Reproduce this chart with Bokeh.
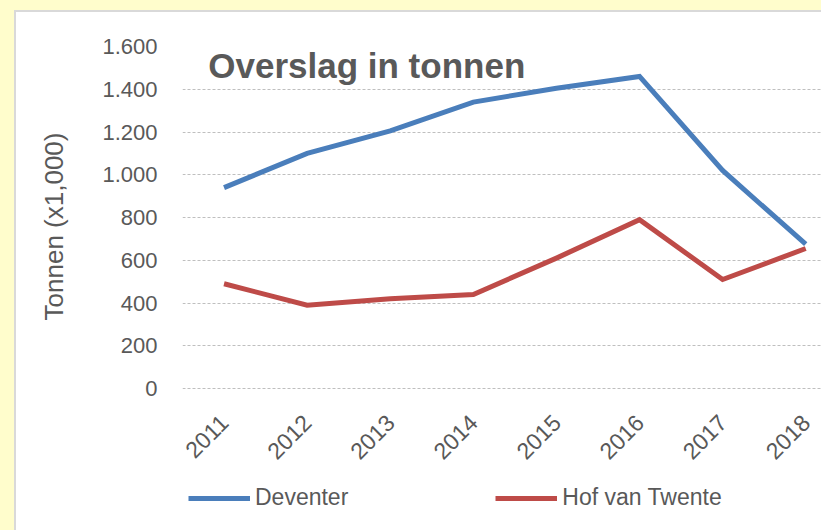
import math
from bokeh.plotting import figure
from bokeh.layouts import column
from bokeh.models import FixedTicker, Range1d, Legend, LegendItem, Label
from bokeh.embed import file_html
from bokeh.resources import INLINE

years = ["2011", "2012", "2013", "2014", "2015", "2016", "2017", "2018"]
deventer = [940, 1100, 1205, 1340, 1405, 1460, 1020, 675]
hof_van_twente = [490, 390, 420, 440, 610, 790, 510, 655]
y_ticks = [0, 200, 400, 600, 800, 1000, 1200, 1400, 1600]
y_tick_labels = ["0", "200", "400", "600", "800", "1.000", "1.200", "1.400", "1.600"]
series_names = ["Deventer", "Hof van Twente"]
series_values = [deventer, hof_van_twente]
series_colors = ["#4A7EBB", "#BE4B48"]

xs = list(range(len(years)))
FONT = "Liberation Sans"
TXT = "#595959"

p = figure(width=805, height=458, output_backend="svg", toolbar_location=None,
           x_range=Range1d(-0.5, 7.19), y_range=Range1d(-84, 1600),
           min_border_left=166, min_border_right=0, min_border_top=34,
           min_border_bottom=64)
p.outline_line_color = None
p.background_fill_color = "white"
p.border_fill_color = "white"

for vals, col in zip(series_values, series_colors):
    p.line(xs, vals, line_width=5, line_color=col, line_join="miter")

# x axis
p.xaxis.ticker = FixedTicker(ticks=xs)
p.xaxis.major_label_overrides = {i: y for i, y in enumerate(years)}
p.xaxis.major_label_orientation = math.pi / 4
p.xaxis.axis_line_color = None
p.xaxis.major_tick_line_color = None
p.xaxis.minor_tick_line_color = None
p.xaxis.major_label_standoff = 6
p.xaxis.major_label_text_font = FONT
p.xaxis.major_label_text_font_size = "23px"
p.xaxis.major_label_text_color = TXT
p.xgrid.visible = False

# y axis
p.yaxis.ticker = FixedTicker(ticks=y_ticks)
p.yaxis.major_label_overrides = {t: l for t, l in zip(y_ticks, y_tick_labels)}
p.yaxis.axis_line_color = None
p.yaxis.major_tick_line_color = None
p.yaxis.minor_tick_line_color = None
p.yaxis.major_label_standoff = 19
p.yaxis.major_label_text_font = FONT
p.yaxis.major_label_text_font_size = "22px"
p.yaxis.major_label_text_color = TXT
p.yaxis.axis_label = "Tonnen (x1,000)"
p.yaxis.axis_label_text_font = FONT
p.yaxis.axis_label_text_font_size = "26px"
p.yaxis.axis_label_text_font_style = "normal"
p.yaxis.axis_label_text_color = TXT
p.yaxis.axis_label_standoff = 30

p.ygrid.ticker = FixedTicker(ticks=y_ticks)
p.ygrid.grid_line_color = "#BFBFBF"
p.ygrid.grid_line_dash = "3 2"
p.ygrid.grid_line_width = 1

p.add_layout(Label(x=-0.19, y=1512, text="Overslag in tonnen", text_font=FONT,
                   text_font_style="bold", text_font_size="35px", text_color=TXT,
                   text_baseline="alphabetic"))

# legend strip below the chart (series drawn out of view, only legend shows)
pl = figure(width=805, height=60, output_backend="svg", toolbar_location=None,
            x_range=Range1d(0, 1), y_range=Range1d(0, 1),
            x_axis_type=None, y_axis_type=None,
            min_border_left=0, min_border_right=0, min_border_top=0,
            min_border_bottom=0)
pl.outline_line_color = None
pl.border_fill_color = "white"
pl.grid.visible = False
items = []
for name, vals, col in zip(series_names, series_values, series_colors):
    r = pl.line(xs, vals, line_width=5, line_color=col)
    items.append(LegendItem(label=name, renderers=[r]))
legend = Legend(items=items, location=(6, 19), orientation="horizontal",
                glyph_width=62, glyph_height=22, label_standoff=5, spacing=147,
                padding=0, margin=0, border_line_color=None,
                background_fill_alpha=0,
                label_text_font=FONT, label_text_font_size="23px",
                label_text_color=TXT)
pl.add_layout(legend)

inner = column(p, pl, spacing=0, margin=(2, 0, 0, 2),
               styles={"background-color": "white"})
frame_box = column(inner, spacing=0, margin=(10, 0, 0, 14),
                   styles={"background-color": "#D9D9D9"})
page = column(frame_box, spacing=0, styles={"background-color": "#FFFDCC"})
open("out.html", "w").write(file_html(page, INLINE))
